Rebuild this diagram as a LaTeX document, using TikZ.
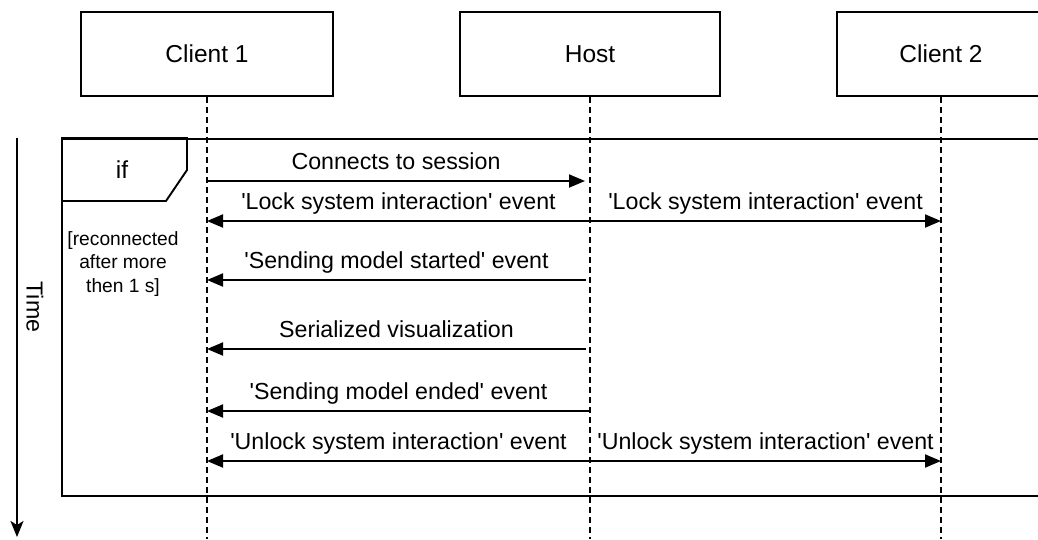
\documentclass[tikz,border=0pt]{standalone}
\usepackage{fontspec}
\setmainfont{Liberation Sans}[Ligatures=TeXOff]
\usetikzlibrary{arrows.meta}

\begin{document}
\begin{tikzpicture}[x=1pt, y=-1pt,
    actor/.style={draw, line width=1.9pt, minimum height=84pt, text height=17pt, text depth=0pt, font=\fontsize{24.5}{29}\selectfont},
    life/.style={line width=1.5pt, dash pattern=on 6pt off 4pt},
    msg/.style={line width=1.9pt, -{Triangle[length=16pt,width=13pt]}},
    lbl/.style={above=4pt, inner sep=2pt, text height=16pt, text depth=5pt, font=\fontsize{23.2}{28}\selectfont}]

\clip (0,0) rectangle (1038,539);

\node[actor, minimum width=252pt] (c1) at (207,54) {Client 1};
\node[actor, minimum width=260pt] (host) at (590,54) {Host};
\node[actor, minimum width=208pt] (c2) at (941,54) {Client 2};

\coordinate (bottom) at (0,539);
\draw[life] (c1.south) -- (c1.south |- bottom);
\draw[life] (host.south) -- (host.south |- bottom);
\draw[life] (c2.south) -- (c2.south |- bottom);

\node[draw, line width=1.9pt, anchor=north west, minimum width=1010pt, minimum height=357pt] (frame) at (61,138) {};
\draw[line width=1.9pt] (frame.north west) -- ++(126,0) -- ++(0,32) -- ++(-21,31) -- (frame.west |- 0,201);
\node[font=\fontsize{24.5}{29}\selectfont] (iflbl) at (122,170) {if};
\node[align=center, font=\fontsize{19.2}{23.5}\selectfont] (guard) at (123,264) {[reconnected\\after more\\then 1 s]};

\coordinate (t0) at (17,138);
\coordinate (t1) at (17,537);
\draw[line width=1.9pt, -{Stealth[length=16pt,width=13pt,inset=4pt]}] (t0) -- (t1);
\node[rotate=-90, font=\fontsize{23.2}{28}\selectfont] (time) at (35,307) {Time};

\coordinate (m1) at (0,181);
\coordinate (m2) at (0,221);
\coordinate (m3) at (0,280);
\coordinate (m4) at (0,349);
\coordinate (m5) at (0,411);
\coordinate (m6) at (0,461);

\draw[msg] (c1.south |- m1) -- ([xshift=-5pt]host.south |- m1) node[lbl, midway] {Connects to session};
\draw[msg] (host.south |- m2) -- (c1.south |- m2) node[lbl, midway] {'Lock system interaction' event};
\draw[msg] (host.south |- m2) -- (c2.south |- m2) node[lbl, midway] {'Lock system interaction' event};
\draw[msg] ([xshift=-4pt]host.south |- m3) -- (c1.south |- m3) node[lbl, midway] {'Sending model started' event};
\draw[msg] ([xshift=-4pt]host.south |- m4) -- (c1.south |- m4) node[lbl, midway] {Serialized visualization};
\draw[msg] (host.south |- m5) -- (c1.south |- m5) node[lbl, midway] {'Sending model ended' event};
\draw[msg] (host.south |- m6) -- (c1.south |- m6) node[lbl, midway] {'Unlock system interaction' event};
\draw[msg] (host.south |- m6) -- (c2.south |- m6) node[lbl, midway] {'Unlock system interaction' event};

\end{tikzpicture}
\end{document}
